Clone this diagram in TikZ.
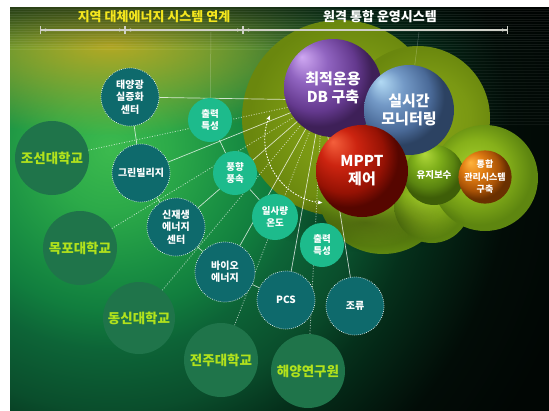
\documentclass[tikz,border=0pt]{standalone}
\usepackage{fontspec}
\newfontfamily\kr{Noto Sans CJK KR}
\usetikzlibrary{arrows.meta,fadings}

% palette
\definecolor{bgA}{HTML}{3CBA4E}
\definecolor{bgB}{HTML}{2CAA49}
\definecolor{bgC}{HTML}{1A9043}
\definecolor{bgD}{HTML}{117E3E}
\definecolor{bgE}{HTML}{0D6437}
\definecolor{bgF}{HTML}{0A4E2C}
\definecolor{bgG}{HTML}{05301B}
\definecolor{bgH}{HTML}{020C07}
\definecolor{bgI}{HTML}{010604}
\definecolor{topyellow}{HTML}{BCAA22}
\definecolor{oliveA}{HTML}{86A416}
\definecolor{oliveB}{HTML}{7A9813}
\definecolor{oliveC}{HTML}{6A870E}
\definecolor{limeA}{HTML}{A2CC2A}
\definecolor{limeB}{HTML}{86B01A}
\definecolor{limeC}{HTML}{5E8610}
\definecolor{purpA}{HTML}{CFA8F2}
\definecolor{purpB}{HTML}{9064C0}
\definecolor{purpC}{HTML}{64398E}
\definecolor{purpD}{HTML}{3E2058}
\definecolor{blueA}{HTML}{B2DAF4}
\definecolor{blueB}{HTML}{7399C6}
\definecolor{blueC}{HTML}{4A6A98}
\definecolor{blueD}{HTML}{2C4262}
\definecolor{redA}{HTML}{F4603C}
\definecolor{redB}{HTML}{CC2410}
\definecolor{redC}{HTML}{961204}
\definecolor{redD}{HTML}{560600}
\definecolor{orgA}{HTML}{FFB43C}
\definecolor{orgB}{HTML}{E07C12}
\definecolor{orgC}{HTML}{A85206}
\definecolor{orgD}{HTML}{6A3000}
\definecolor{grnA}{HTML}{B0D83A}
\definecolor{grnB}{HTML}{7EAE1A}
\definecolor{grnC}{HTML}{5A8410}
\definecolor{grnD}{HTML}{3E5E08}
\definecolor{unifill}{HTML}{1F744A}
\definecolor{unitext}{HTML}{B2E21C}
\definecolor{tealfill}{HTML}{0E6A6C}
\definecolor{mintfill}{HTML}{1DBB8C}
\definecolor{titleyellow}{HTML}{F4E61E}
\definecolor{dimgray}{HTML}{D0D0C8}

% shadings (the path's bounding box receives the central 50bp square)
\pgfdeclareradialshading{bgglow}{\pgfpoint{0bp}{0bp}}{color(0bp)=(bgA); color(2.5bp)=(bgB); color(5bp)=(bgC); color(6.67bp)=(bgD); color(8.33bp)=(bgE); color(10.8bp)=(bgF); color(12.9bp)=(bgG); color(16.7bp)=(bgH); color(20bp)=(bgI); color(50bp)=(bgI)}
\pgfdeclareradialshading{oliveglow}{\pgfpoint{4bp}{0bp}}{color(0bp)=(oliveA); color(15bp)=(oliveB); color(25bp)=(oliveC); color(50bp)=(oliveC)}
\pgfdeclareradialshading{limeglow}{\pgfpoint{-6bp}{6bp}}{color(0bp)=(limeA); color(14bp)=(limeB); color(25bp)=(limeC); color(50bp)=(limeC)}
\pgfdeclareradialshading{ballpurple}{\pgfpoint{-16bp}{16bp}}{color(0bp)=(purpA); color(10bp)=(purpB); color(21bp)=(purpC); color(27bp)=(purpD); color(50bp)=(purpD)}
\pgfdeclareradialshading{ballblue}{\pgfpoint{-16bp}{16bp}}{color(0bp)=(blueA); color(10bp)=(blueB); color(21bp)=(blueC); color(27bp)=(blueD); color(50bp)=(blueD)}
\pgfdeclareradialshading{ballred}{\pgfpoint{-16bp}{16bp}}{color(0bp)=(redA); color(10bp)=(redB); color(21bp)=(redC); color(27bp)=(redD); color(50bp)=(redD)}
\pgfdeclareradialshading{ballorange}{\pgfpoint{-14bp}{14bp}}{color(0bp)=(orgA); color(11bp)=(orgB); color(21bp)=(orgC); color(27bp)=(orgD); color(50bp)=(orgD)}
\pgfdeclareradialshading{ballgreen}{\pgfpoint{-8bp}{18bp}}{color(0bp)=(grnA); color(11bp)=(grnB); color(21bp)=(grnC); color(27bp)=(grnD); color(50bp)=(grnD)}

\tikzfading[name=softspot, inner color=transparent!0, outer color=transparent!100]
\tikzfading[name=topdark, top color=transparent!0, bottom color=transparent!100]

\pgfdeclarelayer{back}
\pgfdeclarelayer{links}
\pgfsetlayers{back,links,main}

\begin{document}
\begin{tikzpicture}[x=1pt,y=1pt,
  uni/.style={circle, fill=unifill, minimum size=74pt, inner sep=0pt, text=unitext,
    font=\kr\bfseries\fontsize{13.5}{15}\selectfont},
  tealnode/.style={circle, fill=tealfill, draw=white!85, line width=0.7pt,
    dash pattern=on 0.7pt off 1.3pt, minimum size=58pt, inner sep=0pt, text=white,
    align=center, font=\kr\bfseries\fontsize{10}{12.5}\selectfont},
  mintnode/.style={circle, fill=mintfill, minimum size=44pt, inner sep=0pt, text=white,
    align=center, font=\kr\bfseries\fontsize{9.5}{12.5}\selectfont},
  ball/.style={circle, shade, inner sep=0pt, text=white, align=center,
    font=\kr\bfseries\fontsize{15}{18}\selectfont},
  smallball/.style={circle, shade, inner sep=0pt, text=white, align=center,
    font=\kr\bfseries\fontsize{9.5}{12.5}\selectfont},
  link/.style={white, draw opacity=0.75, line width=0.7pt},
  dotlink/.style={white, draw opacity=0.65, line width=0.8pt, dash pattern=on 1pt off 1.6pt},
  faint/.style={white, draw opacity=0.25, line width=0.5pt},
  dimline/.style={dimgray, line width=1.1pt,
    {Bar[width=8pt,line width=1pt]Latex[length=5pt,width=3.5pt]}-{Latex[length=5pt,width=3.5pt]Bar[width=8pt,line width=1pt]}},
  titletext/.style={font=\kr\bfseries\fontsize{13}{15}\selectfont, inner sep=0pt}
]
\useasboundingbox (0,0) rectangle (549,-410);

\begin{pgfonlayer}{back}
  \fill[white] (0,0) rectangle (549,-410);
  \begin{scope}
    \clip (10,-7) rectangle (549,-410);
    % backdrop glow
    \shade[shading=bgglow] (110,-150) circle (600);
    \fill[topyellow, path fading=softspot, fill opacity=0.95] (110,-45) ellipse (260 and 90);
    \fill[black, path fading=topdark, fill opacity=0.55] (10,-7) rectangle (549,-48);
    % scan lines
    \foreach \yy in {9,11.5,...,50} \draw[white, draw opacity=0.07, line width=0.4pt] (10,-\yy) -- (549,-\yy);
    \foreach \yy in {52,55,...,125} \draw[white, draw opacity=0.05, line width=0.4pt] (440,-\yy) -- (549,-\yy);
    % olive cluster behind the spheres
    \shade[shading=oliveglow] (340,-118) circle (98);
    \shade[shading=oliveglow] (418,-118) circle (72);
    \shade[shading=limeglow] (383,-188) circle (66);
    \shade[shading=limeglow] (432,-205) circle (38);
    \shade[shading=limeglow] (485,-178) circle (53);
    \fill[black, path fading=softspot, fill opacity=0.35] (365,-222) ellipse (100 and 30);
  \end{scope}
\end{pgfonlayer}

% universities and institutes
\node[uni] (chosun) at (52,-158) {조선대학교};
\node[uni] (mokpo) at (80,-248) {목포대학교};
\node[uni, minimum size=72pt] (dongshin) at (139,-318) {동신대학교};
\node[uni] (jeonju) at (221,-360) {전주대학교};
\node[uni] (ocean) at (308,-371) {해양연구원};

% energy sites
\node[tealnode] (solar) at (130,-97) {태양광\\실증화\\센터};
\node[tealnode] (village) at (141,-173) {그린빌리지};
\node[tealnode] (renew) at (176,-227) {신재생\\에너지\\센터};
\node[tealnode, minimum size=60pt] (bio) at (225,-272) {바이오\\에너지};
\node[tealnode] (pcs) at (286,-300) {PCS};
\node[tealnode] (tidal) at (355,-306) {조류};

% measured quantities
\node[mintnode] (out1) at (210,-120) {출력\\특성};
\node[mintnode] (wind) at (235,-173) {풍향\\풍속};
\node[mintnode, minimum size=46pt] (sun) at (275,-217) {일사량\\온도};
\node[mintnode] (out2) at (322,-245) {출력\\특성};

% system spheres
\node[smallball, shading=ballgreen, minimum size=60pt] (maint) at (434,-175) {유지보수};
\node[ball, shading=ballpurple, minimum size=98pt] (db) at (333,-88) {최적운용\\DB 구축};
\node[ball, shading=ballblue, minimum size=90pt] (rt) at (409,-110) {실시간\\모니터링};
\node[ball, shading=ballred, minimum size=92pt] (mppt) at (362,-171) {MPPT\\제어};
\node[smallball, shading=ballorange, minimum size=52pt,
  font=\kr\bfseries\fontsize{9}{12.5}\selectfont] (integ) at (485,-177) {통합\\관리시스템\\구축};

% headings
\node[titletext, text=titleyellow] (headL) at (154,-17) {지역 대체에너지 시스템 연계};
\node[titletext, text=white] (headR) at (380,-17) {원격 통합 운영시스템};

\coordinate (d0) at (40,-30);
\coordinate (d1) at (125,-30);
\coordinate (d2) at (243,-30);
\coordinate (d3) at (508,-30);
\draw[dimline] (d0) -- (d1);
\draw[dimline] (d1) -- (d2);
\draw[dimline] (d2) -- (d3);

\coordinate (hub) at (322,-100);
\coordinate (vtopL) at (211,-32);
\coordinate (vtopR) at (419,-32);
\coordinate (arcC) at (328,-140);

\begin{pgfonlayer}{links}
  \draw[faint] (out1) -- (vtopL);
  \draw[faint] (rt) -- (vtopR);
  % every site feeds the operating system
  \draw[link] (solar) -- (hub);
  \draw[link] (village) -- (hub);
  \draw[link] (renew) -- (hub);
  \draw[link] (bio) -- (hub);
  \draw[link] (pcs) -- (hub);
  \draw[link] (tidal) -- (hub);
  \draw[dotlink] (chosun) -- (hub);
  \draw[dotlink] (mokpo) -- (hub);
  \draw[dotlink] (dongshin) -- (hub);
  \draw[dotlink] (jeonju) -- (hub);
  \draw[dotlink] (ocean) -- (hub);
  % chains between sites
  \draw[link] (solar) -- (village);
  \draw[link] (village) -- (renew);
  \draw[link] (renew) -- (bio);
  \draw[link] (bio) -- (pcs);
  \draw[link] (out1) -- (wind);
  \draw[link] (wind) -- (sun);
  % sweep arrow
  \draw[white, line width=0.9pt, dash pattern=on 1.5pt off 1.5pt,
    {Stealth[length=5pt,width=4pt]}-{Stealth[length=5pt,width=4pt]}]
    ([shift={(157:63)}]arcC) arc[start angle=157, end angle=265, radius=63];
\end{pgfonlayer}
\end{tikzpicture}
\end{document}
